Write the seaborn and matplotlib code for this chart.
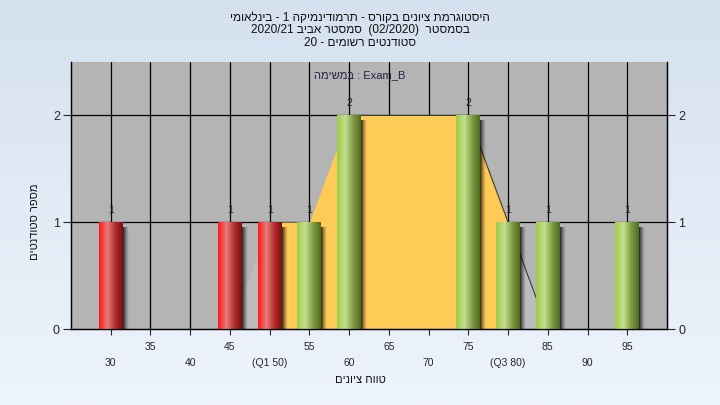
# Grade histogram for one course / one exam
import matplotlib
matplotlib.use('Agg')
import matplotlib.pyplot as plt
from matplotlib.colors import LinearSegmentedColormap
from matplotlib.patches import Rectangle
import pandas as pd
import seaborn as sns
import numpy as np

# data
grades = [30, 45, 50, 55, 60, 75, 80, 85, 95]
counts = [1, 1, 1, 1, 2, 2, 1, 1, 1]
pass_grade = 55
q1 = 50
q3 = 80
# frequency curve behind the bars
curve_x = [45, 50, 55, 60, 75, 85]
curve_y = [0, 1, 1, 2, 2, 0]
xticks_top = [35, 45, 55, 65, 75, 85, 95]
xticks_bottom = [30, 40, 50, 60, 70, 80, 90]
xlabels_bottom = ['30', '40', '(Q1 50)', '60', '70', '(Q3 80)', '90']

title_lines = ['היסטוגרמת ציונים בקורס - תרמודינמיקה 1 - בינלאומי',
               'בסמסטר  (02/2020)  סמסטר אביב 2020/21',
               'סטודנטים רשומים - 20']
exam_text = 'במשימה : Exam_B'
ylabel = 'מספר סטודנטים'
xlabel = 'טווח ציונים'


# matplotlib has no bidi, so put hebrew words into visual order
def vis(s, rtl=True):
    toks = s.split(' ')
    toks = [t[::-1] if any('\u0590' <= c <= '\u05ff' for c in t) else t for t in toks]
    if rtl:
        toks = toks[::-1]
    return ' '.join(toks)


sns.set_style('white')
plt.rcParams['font.family'] = ['Liberation Sans', 'DejaVu Sans']

fig = plt.figure(figsize=(7.2, 4.05), dpi=100)

# light blue gradient background
bg = fig.add_axes([0, 0, 1, 1], zorder=-10)
bg_cmap = LinearSegmentedColormap.from_list('bg', ['#d5e1ef', '#eef4fc'])
bg.imshow(np.linspace(0, 1, 256).reshape(-1, 1), aspect='auto', cmap=bg_cmap, extent=[0, 1, 0, 1])
bg.axis('off')

ax = fig.add_axes([71 / 720, 1 - 329 / 405, 596 / 720, 267 / 405])
ax.set_facecolor('#b4b4b4')

df = pd.DataFrame({'grade': grades, 'count': counts})
df['status'] = ['pass' if g >= pass_grade else 'fail' for g in df['grade']]

# frequency area and interquartile part
ax.fill_between(curve_x, curve_y, 0, color='#bcbcbc', lw=0, zorder=1)
iqr = ax.fill_between(curve_x, curve_y, 0, color='#ffcb57', lw=0, zorder=2)
iqr.set_clip_path(Rectangle((q1, 0), q3 - q1, 3, transform=ax.transData))
ax.plot(curve_x[3:], curve_y[3:], color='#3a3a3a', lw=0.8, zorder=2)

sns.barplot(df, x='grade', y='count', hue='status', native_scale=True,
            palette={'pass': '#a4cc50', 'fail': '#ff1a1a'}, width=0.6,
            legend=False, ax=ax, zorder=3, linewidth=0)

cyl = {
    'pass': LinearSegmentedColormap.from_list('g', [(0, '#9fca46'), (0.35, '#c6df90'), (0.7, '#7b9840'), (1, '#4e6a22')]),
    'fail': LinearSegmentedColormap.from_list('r', [(0, '#ff1414'), (0.35, '#e87c7c'), (0.7, '#b02a2a'), (1, '#7a1010')]),
}
shade = np.zeros((1, 64, 4))
shade[..., 3] = np.linspace(0.85, 0, 64) ** 1.3
grad = np.linspace(0, 1, 128).reshape(1, -1)
for bar, status in zip(ax.patches, df['status']):
    x0, w, h = bar.get_x(), bar.get_width(), bar.get_height()
    # soft shadow on the right side
    ax.imshow(shade, aspect='auto', extent=[x0 + w, x0 + w + 0.75, 0, h - 0.05], zorder=2.5)
    im = ax.imshow(grad, aspect='auto', cmap=cyl[status], extent=[x0, x0 + w, 0, h], zorder=4)
    im.set_clip_path(bar)

for cont in ax.containers:
    ax.bar_label(cont, fontsize=7.5, color='#222222', padding=5)

ax.set_xlim(25, 100)
ax.set_ylim(0, 2.5)

# grid lines every 5 grades and every student
for g in range(30, 100, 5):
    ax.axvline(g, color='black', lw=0.9, zorder=0.5)
for c in [1, 2]:
    ax.axhline(c, color='black', lw=0.9, zorder=0.5)

ax.set_xticks(xticks_bottom)
ax.set_xticklabels(xlabels_bottom)
ax.set_xticks(xticks_top, minor=True)
ax.set_xticklabels([str(t) for t in xticks_top], minor=True)
ax.tick_params(axis='x', which='major', direction='out', length=4, width=0.8, pad=17, labelsize=7.5, bottom=True)
ax.tick_params(axis='x', which='minor', direction='out', length=4, width=0.8, pad=5, labelsize=7.5, bottom=True)
ax.set_yticks([0, 1, 2])
ax.tick_params(axis='y', direction='out', length=6, width=0.8, labelsize=9, left=True, pad=2)
ax.set_xlabel('')
ax.set_ylabel('')

ax2 = ax.twinx()
ax2.set_ylim(ax.get_ylim())
ax2.set_yticks([0, 1, 2])
ax2.tick_params(axis='y', direction='out', length=6, width=0.8, labelsize=9, right=True, pad=2)

for a in [ax, ax2]:
    a.spines['top'].set_visible(False)
    for s in ['left', 'right', 'bottom']:
        a.spines[s].set_color('black')
        a.spines[s].set_linewidth(0.9)

# titles and labels
title_y = [18, 30, 43]
for line, y in zip(title_lines, title_y):
    fig.text(0.5, 1 - y / 405, vis(line), ha='center', va='center', fontsize=8.5, color='#111111')
fig.text(0.5, 1 - 75 / 405, vis(exam_text, rtl=False), ha='center', va='center', fontsize=8, color='#222244')
fig.text(35 / 720, 1 - 222 / 405, vis(ylabel), ha='center', va='center', rotation=90, fontsize=8, color='#111111')
fig.text(360 / 720, 1 - 380 / 405, vis(xlabel), ha='center', va='center', fontsize=8, color='#111111')

fig.savefig('out.png', dpi=100)
